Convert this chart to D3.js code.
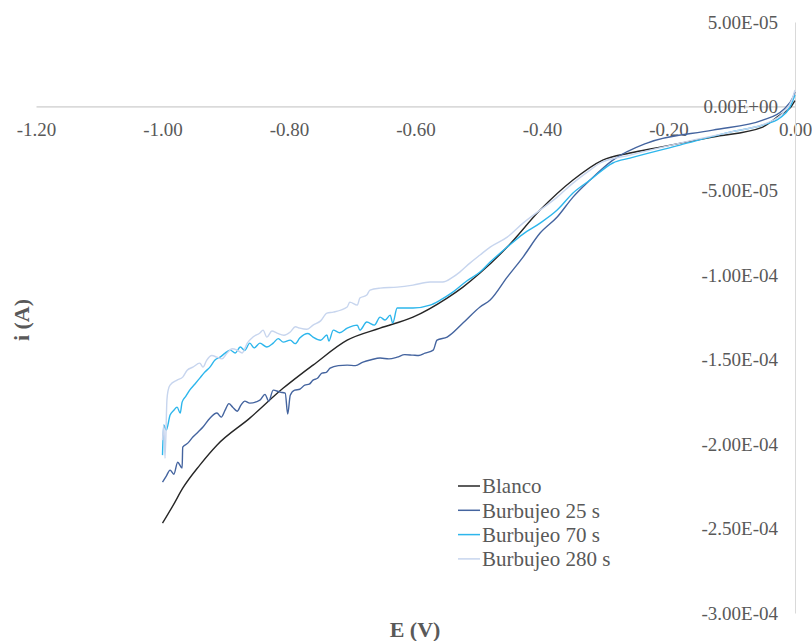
<!DOCTYPE html>
<html>
<head>
<meta charset="utf-8">
<script src="https://cdn.jsdelivr.net/npm/d3@7"></script>
<style>
  html, body { margin: 0; padding: 0; background: #fff; }
  svg text { font-family: "Liberation Serif", "Times New Roman", serif; }
</style>
</head>
<body>
<div id="chart"></div>
<script>
// axis ticks
const xTicks = [-1.2, -1.0, -0.8, -0.6, -0.4, -0.2, 0.0];
const yTicks = [5e-5, 0, -5e-5, -1e-4, -1.5e-4, -2e-4, -2.5e-4, -3e-4];

const seriesNames = ["Blanco", "Burbujeo 25 s", "Burbujeo 70 s", "Burbujeo 280 s"];
const seriesColors = ["#262626", "#44649f", "#2db6ec", "#c7d5ee"];

// Blanco
const blancoE = [-1.000, -0.983, -0.968, -0.941, -0.914, -0.862, -0.809, -0.783, -0.762, -0.708, -0.656, -0.604, -0.550, -0.525, -0.498, -0.455, -0.403, -0.351, -0.304, -0.261, -0.213, -0.130, -0.051, -0.024, -0.008, 0.000];
const blancoI = [-24.68e-5, -23.61e-5, -22.61e-5, -21.24e-5, -20.06e-5, -18.46e-5, -16.68e-5, -15.91e-5, -15.32e-5, -13.84e-5, -13.13e-5, -12.48e-5, -11.35e-5, -10.70e-5, -9.87e-5, -8.33e-5, -6.14e-5, -4.36e-5, -3.18e-5, -2.76e-5, -2.41e-5, -1.81e-5, -1.22e-5, -0.51e-5, -0.10e-5, 0.35e-5];

// Burbujeo 25 s
const b25E = [-1.000, -0.994, -0.988, -0.982, -0.976, -0.969, -0.968, -0.960, -0.952, -0.944, -0.936, -0.925, -0.914, -0.907, -0.901, -0.895, -0.889, -0.882, -0.876, -0.870, -0.862, -0.846, -0.838, -0.832, -0.825, -0.814, -0.806, -0.802, -0.798, -0.791, -0.783, -0.775, -0.768, -0.762, -0.755, -0.748, -0.741, -0.735, -0.722, -0.708, -0.695, -0.683, -0.670, -0.656, -0.642, -0.629, -0.617, -0.604, -0.595, -0.585, -0.572, -0.566, -0.550, -0.525, -0.498, -0.482, -0.455, -0.430, -0.403, -0.376, -0.351, -0.324, -0.288, -0.234, -0.130, -0.051, -0.019, -0.003, 0.000];
const b25I = [-22.25e-5, -21.89e-5, -21.54e-5, -21.78e-5, -21.07e-5, -21.42e-5, -20.18e-5, -19.94e-5, -19.58e-5, -19.29e-5, -18.99e-5, -18.46e-5, -18.16e-5, -18.40e-5, -17.99e-5, -17.60e-5, -17.81e-5, -18.05e-5, -17.69e-5, -17.45e-5, -17.57e-5, -17.39e-5, -17.05e-5, -17.45e-5, -16.80e-5, -16.92e-5, -16.98e-5, -18.22e-5, -17.10e-5, -16.80e-5, -16.75e-5, -16.50e-5, -16.45e-5, -16.21e-5, -16.10e-5, -15.79e-5, -15.75e-5, -15.50e-5, -15.35e-5, -15.32e-5, -15.35e-5, -15.14e-5, -15.00e-5, -14.90e-5, -14.95e-5, -14.85e-5, -14.70e-5, -14.73e-5, -14.75e-5, -14.61e-5, -14.43e-5, -13.84e-5, -13.66e-5, -12.83e-5, -11.88e-5, -11.47e-5, -10.11e-5, -8.92e-5, -7.50e-5, -6.55e-5, -5.37e-5, -4.36e-5, -3.18e-5, -2.17e-5, -1.40e-5, -0.81e-5, -0.21e-5, 0.56e-5, 0.85e-5];

// Burbujeo 70 s
const b70E = [-1.000, -0.998, -0.994, -0.988, -0.982, -0.977, -0.972, -0.969, -0.963, -0.957, -0.949, -0.941, -0.933, -0.925, -0.917, -0.909, -0.901, -0.893, -0.885, -0.877, -0.870, -0.862, -0.855, -0.846, -0.835, -0.825, -0.817, -0.809, -0.798, -0.790, -0.783, -0.770, -0.762, -0.750, -0.740, -0.737, -0.730, -0.720, -0.708, -0.692, -0.688, -0.677, -0.665, -0.656, -0.648, -0.640, -0.636, -0.629, -0.604, -0.577, -0.561, -0.541, -0.519, -0.498, -0.482, -0.455, -0.430, -0.403, -0.376, -0.351, -0.324, -0.288, -0.261, -0.182, -0.103, -0.051, -0.024, -0.008, 0.000];
const b70I = [-20.65e-5, -18.87e-5, -19.17e-5, -18.28e-5, -17.99e-5, -17.81e-5, -18.16e-5, -17.51e-5, -17.16e-5, -16.80e-5, -16.45e-5, -16.09e-5, -15.73e-5, -15.44e-5, -15.02e-5, -14.85e-5, -14.61e-5, -14.43e-5, -14.60e-5, -14.25e-5, -14.45e-5, -14.02e-5, -14.30e-5, -14.02e-5, -14.25e-5, -14.02e-5, -13.75e-5, -13.96e-5, -13.84e-5, -14.05e-5, -13.72e-5, -13.45e-5, -13.66e-5, -13.85e-5, -13.54e-5, -13.90e-5, -13.25e-5, -13.40e-5, -13.13e-5, -12.95e-5, -13.25e-5, -12.77e-5, -12.95e-5, -12.48e-5, -12.65e-5, -12.36e-5, -12.83e-5, -11.94e-5, -11.94e-5, -11.77e-5, -11.47e-5, -11.00e-5, -10.34e-5, -9.81e-5, -9.22e-5, -8.33e-5, -7.56e-5, -6.91e-5, -6.14e-5, -5.13e-5, -4.36e-5, -3.35e-5, -3.06e-5, -2.29e-5, -1.52e-5, -1.10e-5, -0.69e-5, -0.04e-5, 0.68e-5];

// Burbujeo 280 s
const b280E = [-1.000, -0.998, -0.996, -0.993, -0.991, -0.988, -0.977, -0.968, -0.961, -0.952, -0.941, -0.936, -0.930, -0.922, -0.914, -0.906, -0.898, -0.890, -0.882, -0.874, -0.866, -0.857, -0.846, -0.841, -0.835, -0.827, -0.819, -0.808, -0.798, -0.790, -0.783, -0.772, -0.762, -0.750, -0.740, -0.730, -0.708, -0.704, -0.692, -0.688, -0.677, -0.672, -0.656, -0.629, -0.604, -0.577, -0.557, -0.541, -0.530, -0.514, -0.498, -0.482, -0.455, -0.430, -0.403, -0.376, -0.351, -0.324, -0.308, -0.261, -0.182, -0.103, -0.044, -0.019, -0.005, 0.000];
const b280I = [-19.76e-5, -18.87e-5, -20.83e-5, -17.39e-5, -16.80e-5, -16.50e-5, -16.21e-5, -16.03e-5, -15.62e-5, -15.44e-5, -15.20e-5, -15.44e-5, -15.02e-5, -14.75e-5, -14.85e-5, -14.95e-5, -14.61e-5, -14.35e-5, -14.43e-5, -14.60e-5, -14.02e-5, -13.66e-5, -13.42e-5, -13.25e-5, -13.66e-5, -13.30e-5, -13.42e-5, -13.55e-5, -13.36e-5, -13.05e-5, -13.13e-5, -13.20e-5, -12.95e-5, -12.70e-5, -12.24e-5, -12.18e-5, -11.88e-5, -11.59e-5, -11.77e-5, -11.35e-5, -11.17e-5, -10.88e-5, -10.76e-5, -10.70e-5, -10.58e-5, -10.40e-5, -10.40e-5, -10.11e-5, -9.81e-5, -9.28e-5, -8.80e-5, -8.33e-5, -7.74e-5, -6.91e-5, -6.14e-5, -5.37e-5, -4.54e-5, -3.77e-5, -3.35e-5, -2.88e-5, -2.17e-5, -1.52e-5, -0.98e-5, -0.39e-5, 0.38e-5, 0.97e-5];

const series = [
    { name: seriesNames[0], color: seriesColors[0], e: blancoE, i: blancoI },
    { name: seriesNames[1], color: seriesColors[1], e: b25E, i: b25I },
    { name: seriesNames[2], color: seriesColors[2], e: b70E, i: b70I },
    { name: seriesNames[3], color: seriesColors[3], e: b280E, i: b280I }
];

const width = 812, height = 641;

const x = d3.scaleLinear().domain([-1.2, 0]).range([36, 795]);
const y = d3.scaleLinear().domain([5e-5, -3e-4]).range([22, 613]);

// excel style scientific labels, e.g. -1.50E-04
function sci(v) {
    if (Math.abs(v) < 1e-12) return "0.00E+00";
    const exp = Math.floor(Math.log10(Math.abs(v)) + 1e-9);
    const m = v / Math.pow(10, exp);
    return m.toFixed(2) + "E" + (exp < 0 ? "-" : "+") + String(Math.abs(exp)).padStart(2, "0");
}

const svg = d3.select("#chart")
    .append("svg")
    .attr("width", width)
    .attr("height", height);

// x axis on the zero line
const xAxis = svg.append("g")
    .attr("transform", `translate(0,${y(0)})`)
    .call(d3.axisBottom(x).tickValues(xTicks).tickSize(0).tickPadding(16)
        .tickFormat(d => d.toFixed(2)));
xAxis.select(".domain").attr("stroke", "#bfbfbf");
xAxis.selectAll("text")
    .attr("fill", "#595959")
    .style("font-size", "19px");

// y axis on E = 0
const yAxis = svg.append("g")
    .attr("transform", `translate(${x(0)},0)`)
    .call(d3.axisLeft(y).tickValues(yTicks).tickSize(0).tickPadding(17).tickFormat(sci));
yAxis.select(".domain").attr("stroke", "#d9d9d9");
yAxis.selectAll("text")
    .attr("fill", "#595959")
    .style("font-size", "19px");

// Draw curves
const line = d3.line()
    .x(d => x(d[0]))
    .y(d => y(d[1]))
    .curve(d3.curveMonotoneX);

svg.append("g")
    .selectAll("path")
    .data(series)
    .enter()
    .append("path")
    .attr("d", s => line(s.e.map((v, k) => [v, s.i[k]])))
    .attr("fill", "none")
    .attr("stroke", s => s.color)
    .attr("stroke-width", 1.4)
    .attr("stroke-linejoin", "round");

// axis titles
svg.append("text")
    .attr("transform", "translate(21,320) rotate(-90)")
    .attr("text-anchor", "middle")
    .attr("dy", "0.35em")
    .attr("fill", "#595959")
    .style("font-size", "22px")
    .style("font-weight", "bold")
    .text("i (A)");

svg.append("text")
    .attr("x", 415)
    .attr("y", 629)
    .attr("text-anchor", "middle")
    .attr("dy", "0.35em")
    .attr("fill", "#595959")
    .style("font-size", "22px")
    .style("font-weight", "bold")
    .text("E (V)");

// legend
const legend = svg.append("g")
    .selectAll("g")
    .data(series)
    .enter()
    .append("g")
    .attr("transform", (d, k) => `translate(458,${486 + k * 24.3})`);

legend.append("line")
    .attr("x1", 0)
    .attr("x2", 22)
    .attr("stroke", d => d.color)
    .attr("stroke-width", 1.5);

legend.append("text")
    .attr("x", 24)
    .attr("dy", "0.35em")
    .attr("fill", "#595959")
    .style("font-size", "21px")
    .text(d => d.name);
</script>
</body>
</html>
